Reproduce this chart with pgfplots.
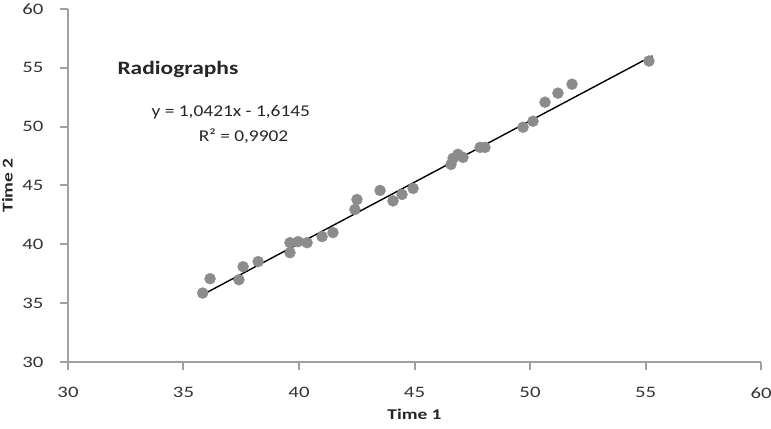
\documentclass[border=0pt]{standalone}
\usepackage{pgfplots}
\pgfplotsset{compat=1.18}
\usepackage{fontspec}
\setmainfont{Carlito}
\newfontfamily\tickfont{Carlito}[FakeStretch=1.3]
\newfontfamily\titlefont{Carlito}[FakeStretch=1.24]
\newfontfamily\eqfont{Carlito}[FakeStretch=1.18]
\definecolor{axgray}{RGB}{160,160,160}
\definecolor{ptgray}{RGB}{140,140,140}
\begin{document}
\begin{tikzpicture}
\begin{axis}[
  scale only axis,
  width=693bp, height=353bp,
  xmin=30, xmax=60, ymin=30, ymax=60,
  axis x line*=bottom, axis y line*=left,
  xtick={30,35,...,60}, ytick={30,35,...,60},
  axis line style={axgray, line width=2.5bp},
  tick style={axgray, line width=2bp},
  tick align=outside, major tick length=8bp,
  /pgf/number format/assume math mode=true,
  ticklabel style={font=\tickfont\fontsize{16}{18}\selectfont, text=black!80},
  xticklabel style={yshift=-14bp},
  yticklabel style={xshift=-13bp},
  xlabel={Time 1}, ylabel={Time 2},
  label style={font=\tickfont\bfseries\fontsize{15}{18}\selectfont, text=black!85},
  xlabel style={at={(axis description cs:0.5,-0.122)}, anchor=north},
  ylabel style={at={(axis description cs:-0.0745,0.5)}, anchor=south},
  clip=false,
]
\addplot[only marks, mark=*, mark size=5.5bp, color=ptgray] coordinates {
(35.83,35.86) (36.15,37.08) (37.40,36.99) (37.58,38.10) (38.23,38.53)
(39.61,39.29) (39.61,40.14) (39.96,40.23) (40.35,40.14) (41.00,40.66)
(41.47,41.00) (42.42,42.96) (42.51,43.81) (43.51,44.58) (44.07,43.69)
(44.46,44.24) (44.94,44.75) (46.58,46.79) (46.67,47.31) (46.88,47.65)
(47.10,47.39) (47.84,48.24) (48.05,48.24) (49.70,49.95) (50.13,50.46)
(50.65,52.08) (51.21,52.85) (51.82,53.61) (55.15,55.58)
};
\addplot[black, line width=1.4bp, no marks] coordinates {(35.8,35.69) (55.3,56.02)};
\node[font=\titlefont\bfseries\fontsize{19}{22}\selectfont, text=black!85] at (axis cs:34.76,54.9) {Radiographs};
\node[font=\eqfont\fontsize{16.5}{18}\selectfont, text=black!85] at (axis cs:37.05,51.23) {y = 1,0421x - 1,6145};
\node[font=\eqfont\fontsize{16.5}{18}\selectfont, text=black!85] at (axis cs:37.6,49.18) {R² = 0,9902};
\end{axis}
\pgfresetboundingbox
\useasboundingbox ([xshift=-68bp,yshift=-67bp]current axis.south west) rectangle ([xshift=10bp,yshift=9bp]current axis.north east);
\end{tikzpicture}
\end{document}
